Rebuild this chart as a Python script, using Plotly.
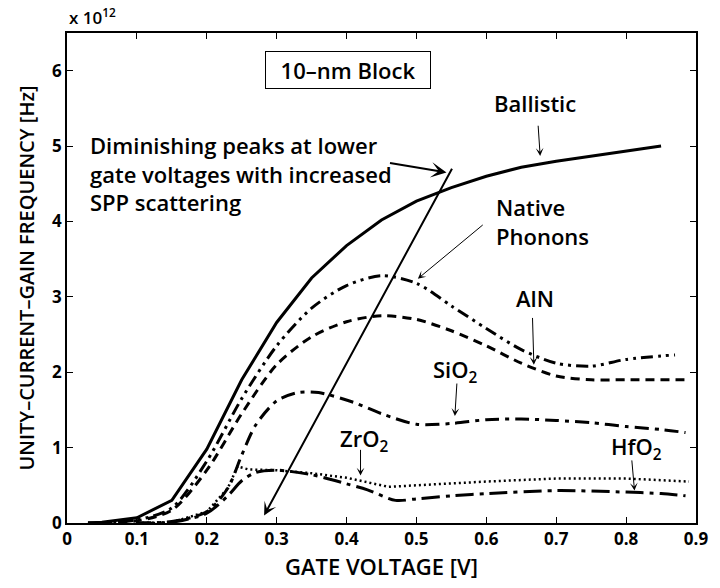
import plotly.graph_objects as go

# Gate voltage [V] and unity-current-gain frequency [x 1e12 Hz]
v_ballistic = [0.03, 0.05, 0.10, 0.15, 0.20, 0.25, 0.30, 0.35, 0.40, 0.45, 0.50, 0.55, 0.60, 0.65, 0.70, 0.75, 0.80, 0.85]
f_ballistic = [0.00, 0.01, 0.07, 0.30, 0.98, 1.90, 2.66, 3.25, 3.68, 4.02, 4.27, 4.45, 4.60, 4.72, 4.80, 4.87, 4.94, 5.00]

v_native = [0.03, 0.10, 0.15, 0.20, 0.25, 0.30, 0.35, 0.40, 0.45, 0.50, 0.55, 0.60, 0.65, 0.70, 0.75, 0.80, 0.87]
f_native = [0.00, 0.04, 0.20, 0.82, 1.65, 2.35, 2.85, 3.15, 3.28, 3.18, 2.88, 2.58, 2.30, 2.12, 2.08, 2.17, 2.23]

v_aln = [0.03, 0.10, 0.15, 0.20, 0.25, 0.30, 0.35, 0.40, 0.45, 0.50, 0.55, 0.60, 0.65, 0.70, 0.75, 0.80, 0.89]
f_aln = [0.00, 0.03, 0.17, 0.70, 1.45, 2.10, 2.47, 2.67, 2.75, 2.70, 2.55, 2.35, 2.12, 1.95, 1.90, 1.90, 1.90]

v_sio2 = [0.10, 0.15, 0.20, 0.23, 0.25, 0.27, 0.30, 0.33, 0.36, 0.41, 0.45, 0.50, 0.55, 0.60, 0.65, 0.70, 0.75, 0.80, 0.85, 0.885]
f_sio2 = [0.00, 0.02, 0.15, 0.46, 0.90, 1.30, 1.62, 1.73, 1.73, 1.60, 1.45, 1.31, 1.32, 1.37, 1.38, 1.36, 1.33, 1.28, 1.24, 1.20]

v_zro2 = [0.10, 0.15, 0.20, 0.23, 0.25, 0.27, 0.30, 0.35, 0.40, 0.43, 0.47, 0.50, 0.55, 0.60, 0.70, 0.80, 0.85, 0.885]
f_zro2 = [0.00, 0.01, 0.13, 0.36, 0.56, 0.67, 0.70, 0.64, 0.52, 0.44, 0.30, 0.32, 0.36, 0.39, 0.43, 0.41, 0.39, 0.36]

v_hfo2 = [0.10, 0.15, 0.20, 0.23, 0.244, 0.26, 0.30, 0.35, 0.40, 0.43, 0.46, 0.50, 0.55, 0.60, 0.70, 0.80, 0.89]
f_hfo2 = [0.00, 0.01, 0.15, 0.46, 0.75, 0.71, 0.70, 0.66, 0.60, 0.54, 0.48, 0.50, 0.52, 0.55, 0.59, 0.59, 0.55]

x_ticks = [0, 0.1, 0.2, 0.3, 0.4, 0.5, 0.6, 0.7, 0.8, 0.9]
x_tick_labels = ["0", "0.1", "0.2", "0.3", "0.4", "0.5", "0.6", "0.7", "0.8", "0.9"]
y_ticks = [0, 1, 2, 3, 4, 5, 6]
y_tick_labels = ["0", "1", "2", "3", "4", "5", "6"]

FONT = "Open Sans"
fig = go.Figure()

def add(vx, fy, dash, shape="spline", width=3):
    fig.add_trace(go.Scatter(x=vx, y=fy, mode="lines",
                             line=dict(color="black", width=width, dash=dash, shape=shape, smoothing=0.8),
                             showlegend=False, hoverinfo="skip"))

add(v_ballistic, f_ballistic, "solid", shape="linear")
add(v_native, f_native, "12px,5px,3px,5px,3px,5px")
add(v_aln, f_aln, "9px,6px")
add(v_sio2, f_sio2, "14px,6px,4px,6px")
add(v_zro2, f_zro2, "18px,6px,4px,6px")
add(v_hfo2, f_hfo2, "2px,3px", shape="linear", width=2.5)

ann = []
def text(x, y, t, size=22, xanchor="center", yanchor="middle", align="center", **kw):
    ann.append(dict(x=x, y=y, xref="x", yref="y", text=t, showarrow=False,
                    xanchor=xanchor, yanchor=yanchor, align=align,
                    font=dict(family=FONT, size=size, color="black", weight=600), **kw))

def arrow(x0, y0, x1, y1, width=1, head=3, size=1.3):
    ann.append(dict(x=x1, y=y1, ax=x0, ay=y0, xref="x", yref="y", axref="x", ayref="y",
                    text="", showarrow=True, arrowhead=head, arrowsize=size,
                    arrowwidth=width, arrowcolor="black", standoff=0, startstandoff=0))

text(0.402, 6.01, "10–nm Block", size=22, bordercolor="black", borderwidth=1, borderpad=2,
     bgcolor="white", width=160, height=32)
text(0.669, 5.57, "Ballistic")
arrow(0.674, 5.29, 0.677, 4.87)
text(0.030, 4.64, "Diminishing peaks at lower<br>gate voltages with increased<br>SPP scattering", xanchor="left", align="left")
arrow(0.460, 4.78, 0.543, 4.65, width=2)
arrow(0.552, 4.72, 0.282, 0.10, width=2, size=1.1)
text(0.611, 4.00, "Native<br>Phonons", xanchor="left", align="left")
arrow(0.597, 3.97, 0.502, 3.24)
text(0.669, 2.99, "AlN")
arrow(0.666, 2.74, 0.668, 2.10)
text(0.556, 2.02, "SiO<sub>2</sub>")
arrow(0.558, 1.87, 0.555, 1.42)
text(0.425, 1.10, "ZrO<sub>2</sub>")
arrow(0.420, 0.99, 0.420, 0.63)
text(0.815, 1.00, "HfO<sub>2</sub>")
arrow(0.808, 0.85, 0.812, 0.43)
ann.append(dict(x=0, y=1.0, xref="paper", yref="paper", xanchor="left", yanchor="bottom", yshift=2,
                text="x 10<sup>12</sup>", showarrow=False,
                font=dict(family=FONT, size=17, color="black", weight=600)))

axis_common = dict(showline=True, linecolor="black", linewidth=1.5, mirror="ticks",
                   ticks="inside", ticklen=6, tickwidth=1, tickcolor="black",
                   showgrid=False, zeroline=False,
                   tickfont=dict(family=FONT, size=17, color="black", weight=700))

fig.update_layout(
    width=720, height=588,
    margin=dict(l=67, r=15, t=33, b=64),
    paper_bgcolor="white", plot_bgcolor="white",
    annotations=ann,
    xaxis=dict(range=[0, 0.9], tickvals=x_ticks, ticktext=x_tick_labels,
               title=dict(text="GATE VOLTAGE [V]", standoff=10,
                          font=dict(family=FONT, size=22, color="black", weight=600)),
               **axis_common),
    yaxis=dict(range=[0, 6.5], tickvals=y_ticks, ticktext=y_tick_labels,
               title=dict(text="UNITY–CURRENT–GAIN FREQUENCY [Hz]", standoff=12,
                          font=dict(family=FONT, size=20, color="black", weight=600)),
               **axis_common),
)

fig.write_html("out.html")
